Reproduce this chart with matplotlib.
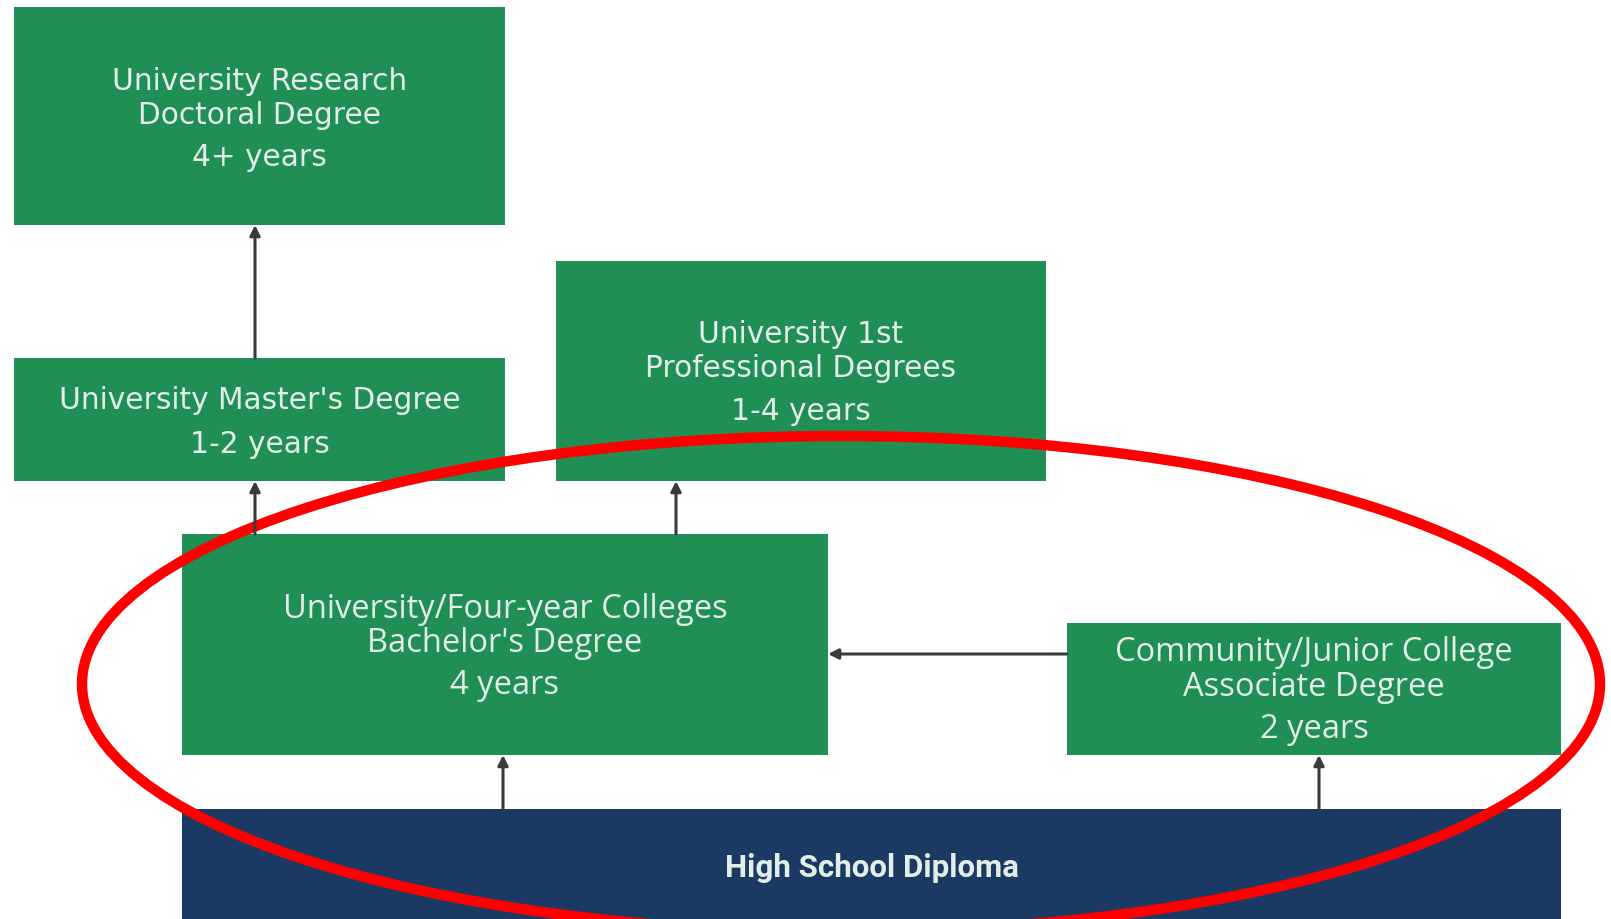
import matplotlib
matplotlib.use("Agg")
import matplotlib.pyplot as plt
from matplotlib.patches import Rectangle, Ellipse

# box labels (title lines, duration)
titles = [
    ["University Research", "Doctoral Degree"],
    ["University Master's Degree"],
    ["University 1st", "Professional Degrees"],
    ["University/Four-year Colleges", "Bachelor's Degree"],
    ["Community/Junior College", "Associate Degree"],
    ["High School Diploma"],
]
durations = ["4+ years", "1-2 years", "1-4 years", "4 years", "2 years", ""]

# links between boxes (from index -> to index)
links = [(1, 0), (3, 1), (3, 2), (4, 3), (5, 3), (5, 4)]

# layout in pixels: x0, y0, x1, y1 (y grows downward)
boxes = [
    (14, 8, 505, 226),
    (14, 359, 505, 482),
    (556, 262, 1046, 482),
    (182, 535, 828, 756),
    (1067, 624, 1561, 756),
    (182, 810, 1561, 925),
]
# y of each text line
line_y = [
    [81, 115, 158],
    [401, 445],
    [335, 369, 412],
    [610, 644, 686],
    [653, 688, 730],
    [868],
]
# arrow geometry: (x1, y1) start, (x2, y2) end
arrow_pts = [
    ((255, 359), (255, 226)),
    ((255, 535), (255, 482)),
    ((676, 535), (676, 482)),
    ((1067, 655), (828, 655)),
    ((503, 810), (503, 756)),
    ((1319, 810), (1319, 756)),
]

green = "#208F55"
navy = "#1B3A63"
txt = "#E4EEE8"

fig = plt.figure(figsize=(16.11, 9.2), dpi=100)
ax = fig.add_axes([0, 0, 1, 1])
ax.set_xlim(0, 1611)
ax.set_ylim(920, 0)
ax.axis("off")

for i, (x0, y0, x1, y1) in enumerate(boxes):
    col = navy if i == 5 else green
    ax.add_patch(Rectangle((x0, y0), x1 - x0, y1 - y0, facecolor=col, edgecolor="none"))
    lines = titles[i] + ([durations[i]] if durations[i] else [])
    cx = (x0 + x1) / 2
    if i < 3:
        fam, size, wt = "DejaVu Sans", 21.3, "normal"
    elif i < 5:
        fam, size, wt = "Open Sans", 23.5, "normal"
    else:
        fam, size, wt = "Roboto", 22.5, "bold"
    for s, y in zip(lines, line_y[i]):
        ax.text(cx, y, s, ha="center", va="center", color=txt,
                fontsize=size, family=fam, weight=wt)

for (p1, p2) in arrow_pts:
    ax.annotate("", xy=p2, xytext=p1,
                arrowprops=dict(arrowstyle="-|>,head_length=0.6,head_width=0.3",
                                color="#3A3A3A", lw=2.2, shrinkA=0, shrinkB=0))

ax.add_patch(Ellipse((841, 685), 1518, 496, fill=False, edgecolor="#FF0000", lw=7.5))

fig.savefig("out.png", dpi=100)
